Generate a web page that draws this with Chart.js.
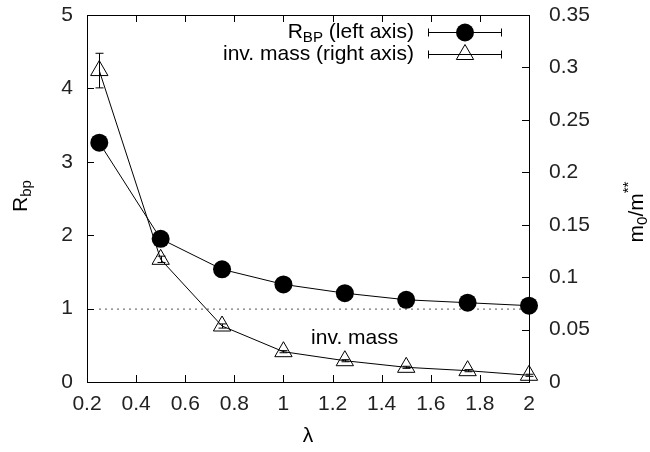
<!DOCTYPE html>
<html>
<head>
	<meta charset="utf-8" />
	<title>R_BP and inverse mass vs lambda</title>
	<script src="https://cdn.jsdelivr.net/npm/chart.js@4.4.1/dist/chart.umd.min.js"></script>
	<style>
		body { margin: 0; background: #fff; }
		canvas { display: block; }
	</style>
</head>
<body>

<canvas id="rbpChart" width="650" height="452"></canvas>

<script>

// values
var lambdaValues = [0.25, 0.5, 0.75, 1, 1.25, 1.5, 1.75, 2]
var rbpValues = [3.26, 1.95, 1.535, 1.33, 1.21, 1.12, 1.08, 1.04]
var rbpErrors = [0.02, 0.02, 0.015, 0.01, 0.01, 0.01, 0.01, 0.01]
var invMassValues = [0.297, 0.117, 0.0534, 0.0289, 0.0203, 0.014, 0.0108, 0.0064]
var invMassErrors = [0.0165, 0.003, 0.002, 0.001, 0.001, 0.001, 0.001, 0.001]
var xTicks = [0.2, 0.4, 0.6, 0.8, 1, 1.2, 1.4, 1.6, 1.8, 2]
var leftTicks = [0, 1, 2, 3, 4, 5]
var rightTicks = [0, 0.05, 0.1, 0.15, 0.2, 0.25, 0.3, 0.35]
var referenceLine = 1

var FONT = "'Liberation Sans', Arial, Helvetica, sans-serif"

function points(xs, ys) {
	var out = []
	for (var i = 0; i < xs.length; i++) out.push({x: xs[i], y: ys[i]})
	return out
}

function fmt(v) { return String(Number(v.toFixed(3))) }

// draw text made of pieces, some sub/superscript. align: 'left' | 'right' | 'center'
function drawRich(ctx, parts, x, y, size, align) {
	var w = 0
	parts.forEach(function(p) {
		ctx.font = (p.sub || p.sup ? size * 0.72 : size) + "px " + FONT
		p.w = ctx.measureText(p.t).width
		w += p.w
	})
	var cx = x
	if (align == 'right') cx = x - w
	if (align == 'center') cx = x - w / 2
	ctx.textAlign = 'left'
	ctx.textBaseline = 'middle'
	parts.forEach(function(p) {
		ctx.font = (p.sub || p.sup ? size * 0.72 : size) + "px " + FONT
		var dy = p.sub ? size * 0.3 : (p.sup ? -size * 0.4 : 0)
		ctx.fillText(p.t, cx, y + dy)
		cx += p.w
	})
}

function drawTriangle(ctx, x, y, r) {
	var edge = 3 * r / Math.sqrt(3)
	var h = edge * Math.sqrt(3) / 2
	ctx.beginPath()
	ctx.moveTo(x - edge / 2, y + h / 3)
	ctx.lineTo(x + edge / 2, y + h / 3)
	ctx.lineTo(x, y - 2 * h / 3)
	ctx.closePath()
	ctx.stroke()
}

function fitY(width) {
	return function(s) {
		s.width = width
		s.paddingTop = 0
		s.paddingBottom = 0
	}
}

var decorations = {
	id: 'decorations',
	beforeDatasetsDraw: function(chart) {
		var ctx = chart.ctx
		var x = chart.scales.x, y = chart.scales.y
		var yy = y.getPixelForValue(referenceLine)
		ctx.save()
		ctx.strokeStyle = '#555'
		ctx.lineWidth = 1
		ctx.setLineDash([2, 4])
		ctx.beginPath()
		ctx.moveTo(x.getPixelForValue(0.2) + 12, yy + 0.5)
		ctx.lineTo(x.getPixelForValue(2), yy + 0.5)
		ctx.stroke()
		ctx.restore()
	},
	afterDatasetsDraw: function(chart) {
		var ctx = chart.ctx
		var x = chart.scales.x, y = chart.scales.y, y2 = chart.scales.y2
		var a = chart.chartArea
		ctx.save()
		ctx.strokeStyle = '#000'
		ctx.lineWidth = 1

		// error bars
		function errBars(vals, errs, scale) {
			for (var i = 0; i < lambdaValues.length; i++) {
				var px = Math.round(x.getPixelForValue(lambdaValues[i])) + 0.5
				var top = scale.getPixelForValue(vals[i] + errs[i])
				var bot = scale.getPixelForValue(vals[i] - errs[i])
				ctx.beginPath()
				ctx.moveTo(px, top); ctx.lineTo(px, bot)
				ctx.moveTo(px - 4, top); ctx.lineTo(px + 4, top)
				ctx.moveTo(px - 4, bot); ctx.lineTo(px + 4, bot)
				ctx.stroke()
			}
		}
		errBars(rbpValues, rbpErrors, y)
		errBars(invMassValues, invMassErrors, y2)

		// frame
		ctx.strokeRect(Math.round(a.left) + 0.5, Math.round(a.top) + 0.5,
			Math.round(a.right - a.left), Math.round(a.bottom - a.top))

		// inward ticks
		ctx.beginPath()
		xTicks.forEach(function(v) {
			var px = Math.round(x.getPixelForValue(v)) + 0.5
			ctx.moveTo(px, a.bottom); ctx.lineTo(px, a.bottom - 7)
			ctx.moveTo(px, a.top); ctx.lineTo(px, a.top + 7)
		})
		leftTicks.forEach(function(v) {
			var py = Math.round(y.getPixelForValue(v)) + 0.5
			ctx.moveTo(a.left, py); ctx.lineTo(a.left + 7, py)
		})
		rightTicks.forEach(function(v) {
			var py = Math.round(y2.getPixelForValue(v)) + 0.5
			ctx.moveTo(a.right, py); ctx.lineTo(a.right - 7, py)
		})
		ctx.stroke()

		ctx.fillStyle = '#000'

		// annotation
		drawRich(ctx, [{t: 'inv. mass'}], x.getPixelForValue(1.29), y.getPixelForValue(0.6), 21, 'center')

		// legend
		var rows = [
			{parts: [{t: 'R'}, {t: 'BP', sub: true}, {t: ' (left axis)'}], y: 32, style: 'circle'},
			{parts: [{t: 'inv. mass (right axis)'}], y: 54, style: 'triangle'}
		]
		rows.forEach(function(r) {
			drawRich(ctx, r.parts, 414, r.y, 21, 'right')
			var ly = r.y + 0.5
			ctx.beginPath()
			ctx.moveTo(428, ly); ctx.lineTo(502, ly)
			ctx.moveTo(428.5, ly - 4); ctx.lineTo(428.5, ly + 4)
			ctx.moveTo(501.5, ly - 4); ctx.lineTo(501.5, ly + 4)
			ctx.stroke()
			if (r.style == 'circle') {
				ctx.beginPath()
				ctx.arc(465, ly, 9, 0, Math.PI * 2)
				ctx.fill()
			} else {
				drawTriangle(ctx, 465, ly, 10)
			}
		})

		// axis titles
		drawRich(ctx, [{t: 'λ'}], 308, 436, 21, 'center')

		ctx.save()
		ctx.translate(21, 196)
		ctx.rotate(-Math.PI / 2)
		drawRich(ctx, [{t: 'R'}, {t: 'bp', sub: true}], 0, 0, 21, 'center')
		ctx.restore()

		ctx.save()
		ctx.translate(637, 212)
		ctx.rotate(-Math.PI / 2)
		drawRich(ctx, [{t: 'm'}, {t: '0', sub: true}, {t: '/m'}, {t: '**', sup: true}], 0, 0, 21, 'center')
		ctx.restore()

		ctx.restore()
	}
}

new Chart("rbpChart", {
	type: "scatter",
	data: {
		datasets: [{
			label: "R_BP (left axis)",
			data: points(lambdaValues, rbpValues),
			yAxisID: "y",
			showLine: true,
			clip: false,
			borderColor: "#000",
			borderWidth: 1,
			backgroundColor: "#000",
			pointStyle: "circle",
			pointRadius: 9,
			pointBorderWidth: 0,
			pointBackgroundColor: "#000"
		}, {
			label: "inv. mass (right axis)",
			data: points(lambdaValues, invMassValues),
			yAxisID: "y2",
			showLine: true,
			clip: false,
			borderColor: "#000",
			borderWidth: 1,
			pointStyle: "triangle",
			pointRadius: 10,
			pointBorderWidth: 1,
			pointBorderColor: "#000",
			pointBackgroundColor: "rgba(0,0,0,0)"
		}]
	},
	options: {
		responsive: false,
		animation: false,
		layout: {padding: {top: 15, left: 0, right: 0, bottom: 0}},
		plugins: {legend: {display: false}, tooltip: {enabled: false}},
		scales: {
			x: {
				type: "linear", min: 0.2, max: 2,
				afterBuildTicks: function(s) { s.ticks = xTicks.map(function(v) { return {value: v} }) },
				afterFit: function(s) { s.height = 70; s.paddingLeft = 0; s.paddingRight = 0 },
				grid: {display: false, drawTicks: false},
				border: {display: false},
				ticks: {padding: 10, color: "#222", font: {family: FONT, size: 21}, callback: fmt, maxRotation: 0, autoSkip: false}
			},
			y: {
				position: "left", min: 0, max: 5,
				afterBuildTicks: function(s) { s.ticks = leftTicks.map(function(v) { return {value: v} }) },
				afterFit: fitY(87),
				grid: {display: false, drawTicks: false},
				border: {display: false},
				ticks: {padding: 14, color: "#222", font: {family: FONT, size: 21}, callback: fmt}
			},
			y2: {
				position: "right", min: 0, max: 0.35,
				afterBuildTicks: function(s) { s.ticks = rightTicks.map(function(v) { return {value: v} }) },
				afterFit: fitY(121),
				grid: {display: false, drawTicks: false},
				border: {display: false},
				ticks: {padding: 20, color: "#222", font: {family: FONT, size: 21}, callback: fmt}
			}
		}
	},
	plugins: [decorations]
})

</script>

</body>
</html>
